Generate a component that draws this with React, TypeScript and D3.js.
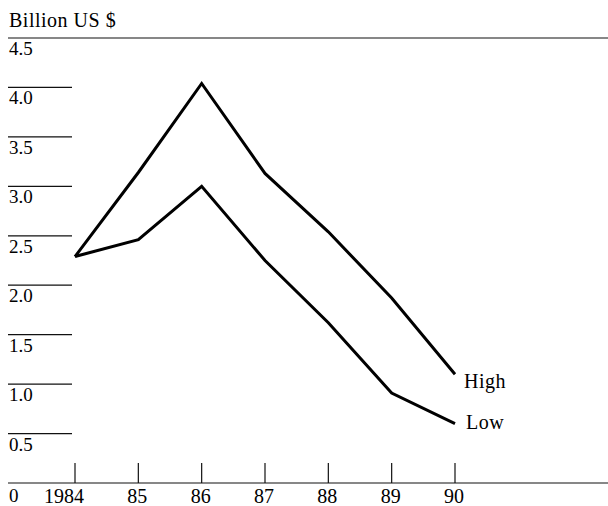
import React, { useEffect, useRef } from "react";
import * as d3 from "d3";

const years = [1984, 1985, 1986, 1987, 1988, 1989, 1990];
const yearLabels = ["1984", "85", "86", "87", "88", "89", "90"];
const highValues = [2.29, 3.14, 4.04, 3.13, 2.54, 1.87, 1.1];
const lowValues = [2.29, 2.46, 3.0, 2.25, 1.62, 0.91, 0.6];
const yTicks = [0.5, 1.0, 1.5, 2.0, 2.5, 3.0, 3.5, 4.0, 4.5];

const App: React.FC = () => {
  const svgRef = useRef(null);

  useEffect(() => {
    const w = 608;
    const h = 506;
    const font = "'Liberation Serif', 'DejaVu Serif', serif";

    const svg = d3.select(svgRef.current).attr("width", w).attr("height", h);

    const xScale = d3.scaleLinear().domain([1984, 1990]).range([75, 455]);
    const yScale = d3.scaleLinear().domain([0, 4.5]).range([483, 38]);

    // title
    svg
      .append("text")
      .attr("x", 9)
      .attr("y", 27)
      .attr("font-family", font)
      .attr("font-size", 20)
      .attr("letter-spacing", 0.5)
      .text("Billion US $");

    // short gridlines with labels hanging below
    yTicks.forEach((t) => {
      svg
        .append("line")
        .attr("x1", 8)
        .attr("x2", t === 4.5 ? w : 72)
        .attr("y1", yScale(t))
        .attr("y2", yScale(t))
        .attr("stroke", "#111")
        .attr("stroke-width", 1.2);
      svg
        .append("text")
        .attr("x", 9)
        .attr("y", yScale(t) + 17)
        .attr("font-family", font)
        .attr("font-size", 19)
        .text(t.toFixed(1));
    });

    // baseline
    svg
      .append("line")
      .attr("x1", 8)
      .attr("x2", w)
      .attr("y1", yScale(0))
      .attr("y2", yScale(0))
      .attr("stroke", "#111")
      .attr("stroke-width", 1.2);

    svg
      .append("text")
      .attr("x", 9)
      .attr("y", yScale(0) + 19)
      .attr("font-family", font)
      .attr("font-size", 19)
      .text("0");

    // x ticks
    years.forEach((yr, i) => {
      svg
        .append("line")
        .attr("x1", xScale(yr))
        .attr("x2", xScale(yr))
        .attr("y1", yScale(0) - 20)
        .attr("y2", yScale(0))
        .attr("stroke", "#111")
        .attr("stroke-width", 1.2);
      svg
        .append("text")
        .attr("x", xScale(yr) + 9)
        .attr("y", yScale(0) + 20)
        .attr("text-anchor", "end")
        .attr("font-family", font)
        .attr("font-size", 20)
        .text(yearLabels[i]);
    });

    const line = d3
      .line<number>()
      .x((_, i) => xScale(years[i]))
      .y((d) => yScale(d));

    [highValues, lowValues].forEach((vals) => {
      svg
        .append("path")
        .attr("d", line(vals))
        .attr("fill", "none")
        .attr("stroke", "#000")
        .attr("stroke-width", 3)
        .attr("stroke-linejoin", "miter");
    });

    svg
      .append("text")
      .attr("x", xScale(1990) + 9)
      .attr("y", yScale(highValues[6]) + 14)
      .attr("font-family", font)
      .attr("font-size", 20)
      .attr("letter-spacing", 0.5)
      .text("High");
    svg
      .append("text")
      .attr("x", xScale(1990) + 11)
      .attr("y", yScale(lowValues[6]) + 5)
      .attr("font-family", font)
      .attr("font-size", 20)
      .attr("letter-spacing", 0.5)
      .text("Low");

    return () => {
      svg.selectAll("*").remove();
    };
  }, []);

  return (
    <svg
      ref={svgRef}
      style={{ position: "absolute", left: 0, top: 0, background: "#fff" }}
    />
  );
};

export default App;
